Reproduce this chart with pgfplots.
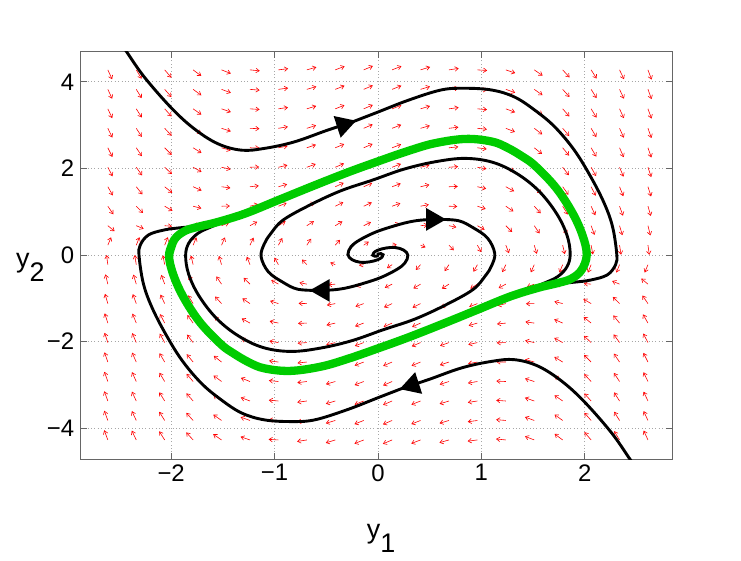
\documentclass[border=0pt]{standalone}
\usepackage{pgfplots}
\pgfplotsset{compat=1.18}
\usepackage{pgfplotstable}
\usepackage{fontspec}
\setmainfont{Liberation Sans}
\usetikzlibrary{arrows.meta}

\pgfplotstableread{
x y v
-2.6125 -4.275 27.52
-2.6125 -3.825 24.89
-2.6125 -3.375 22.27
-2.6125 -2.925 19.65
-2.6125 -2.475 17.03
-2.6125 -2.025 14.41
-2.6125 -1.575 11.79
-2.6125 -1.125 9.17
-2.6125 -0.675 6.54
-2.6125 -0.225 3.92
-2.6125 0.225 1.30
-2.6125 0.675 -1.32
-2.6125 1.125 -3.94
-2.6125 1.575 -6.56
-2.6125 2.025 -9.18
-2.6125 2.475 -11.80
-2.6125 2.925 -14.43
-2.6125 3.375 -17.05
-2.6125 3.825 -19.67
-2.6125 4.275 -22.29
-2.3375 -4.275 21.42
-2.3375 -3.825 19.41
-2.3375 -3.375 17.40
-2.3375 -2.925 15.39
-2.3375 -2.475 13.39
-2.3375 -2.025 11.38
-2.3375 -1.575 9.37
-2.3375 -1.125 7.36
-2.3375 -0.675 5.35
-2.3375 -0.225 3.34
-2.3375 0.225 1.33
-2.3375 0.675 -0.68
-2.3375 1.125 -2.68
-2.3375 1.575 -4.69
-2.3375 2.025 -6.70
-2.3375 2.475 -8.71
-2.3375 2.925 -10.72
-2.3375 3.375 -12.73
-2.3375 3.825 -14.74
-2.3375 4.275 -16.75
-2.0625 -4.275 15.97
-2.0625 -3.825 14.51
-2.0625 -3.375 13.04
-2.0625 -2.925 11.58
-2.0625 -2.475 10.12
-2.0625 -2.025 8.65
-2.0625 -1.575 7.19
-2.0625 -1.125 5.72
-2.0625 -0.675 4.26
-2.0625 -0.225 2.79
-2.0625 0.225 1.33
-2.0625 0.675 -0.13
-2.0625 1.125 -1.60
-2.0625 1.575 -3.06
-2.0625 2.025 -4.53
-2.0625 2.475 -5.99
-2.0625 2.925 -7.46
-2.0625 3.375 -8.92
-2.0625 3.825 -10.38
-2.0625 4.275 -11.85
-1.7875 -4.275 11.17
-1.7875 -3.825 10.18
-1.7875 -3.375 9.20
-1.7875 -2.925 8.21
-1.7875 -2.475 7.22
-1.7875 -2.025 6.23
-1.7875 -1.575 5.24
-1.7875 -1.125 4.26
-1.7875 -0.675 3.27
-1.7875 -0.225 2.28
-1.7875 0.225 1.29
-1.7875 0.675 0.31
-1.7875 1.125 -0.68
-1.7875 1.575 -1.67
-1.7875 2.025 -2.66
-1.7875 2.475 -3.65
-1.7875 2.925 -4.63
-1.7875 3.375 -5.62
-1.7875 3.825 -6.61
-1.7875 4.275 -7.60
-1.5125 -4.275 7.02
-1.5125 -3.825 6.44
-1.5125 -3.375 5.86
-1.5125 -2.925 5.28
-1.5125 -2.475 4.70
-1.5125 -2.025 4.12
-1.5125 -1.575 3.54
-1.5125 -1.125 2.96
-1.5125 -0.675 2.38
-1.5125 -0.225 1.80
-1.5125 0.225 1.22
-1.5125 0.675 0.64
-1.5125 1.125 0.06
-1.5125 1.575 -0.52
-1.5125 2.025 -1.10
-1.5125 2.475 -1.67
-1.5125 2.925 -2.25
-1.5125 3.375 -2.83
-1.5125 3.825 -3.41
-1.5125 4.275 -3.99
-1.2375 -4.275 3.51
-1.2375 -3.825 3.27
-1.2375 -3.375 3.03
-1.2375 -2.925 2.79
-1.2375 -2.475 2.55
-1.2375 -2.025 2.31
-1.2375 -1.575 2.07
-1.2375 -1.125 1.84
-1.2375 -0.675 1.60
-1.2375 -0.225 1.36
-1.2375 0.225 1.12
-1.2375 0.675 0.88
-1.2375 1.125 0.64
-1.2375 1.575 0.40
-1.2375 2.025 0.16
-1.2375 2.475 -0.08
-1.2375 2.925 -0.32
-1.2375 3.375 -0.56
-1.2375 3.825 -0.80
-1.2375 4.275 -1.03
-0.9625 -4.275 0.65
-0.9625 -3.825 0.68
-0.9625 -3.375 0.71
-0.9625 -2.925 0.75
-0.9625 -2.475 0.78
-0.9625 -2.025 0.81
-0.9625 -1.575 0.85
-0.9625 -1.125 0.88
-0.9625 -0.675 0.91
-0.9625 -0.225 0.95
-0.9625 0.225 0.98
-0.9625 0.675 1.01
-0.9625 1.125 1.05
-0.9625 1.575 1.08
-0.9625 2.025 1.11
-0.9625 2.475 1.14
-0.9625 2.925 1.18
-0.9625 3.375 1.21
-0.9625 3.825 1.24
-0.9625 4.275 1.28
-0.6875 -4.275 -1.57
-0.6875 -3.825 -1.33
-0.6875 -3.375 -1.09
-0.6875 -2.925 -0.86
-0.6875 -2.475 -0.62
-0.6875 -2.025 -0.38
-0.6875 -1.575 -0.14
-0.6875 -1.125 0.09
-0.6875 -0.675 0.33
-0.6875 -0.225 0.57
-0.6875 0.225 0.81
-0.6875 0.675 1.04
-0.6875 1.125 1.28
-0.6875 1.575 1.52
-0.6875 2.025 1.76
-0.6875 2.475 1.99
-0.6875 2.925 2.23
-0.6875 3.375 2.47
-0.6875 3.825 2.70
-0.6875 4.275 2.94
-0.4125 -4.275 -3.14
-0.4125 -3.825 -2.76
-0.4125 -3.375 -2.39
-0.4125 -2.925 -2.01
-0.4125 -2.475 -1.64
-0.4125 -2.025 -1.27
-0.4125 -1.575 -0.89
-0.4125 -1.125 -0.52
-0.4125 -0.675 -0.15
-0.4125 -0.225 0.23
-0.4125 0.225 0.60
-0.4125 0.675 0.97
-0.4125 1.125 1.35
-0.4125 1.575 1.72
-0.4125 2.025 2.09
-0.4125 2.475 2.47
-0.4125 2.925 2.84
-0.4125 3.375 3.21
-0.4125 3.825 3.59
-0.4125 4.275 3.96
-0.1375 -4.275 -4.06
-0.1375 -3.825 -3.62
-0.1375 -3.375 -3.17
-0.1375 -2.925 -2.73
-0.1375 -2.475 -2.29
-0.1375 -2.025 -1.85
-0.1375 -1.575 -1.41
-0.1375 -1.125 -0.97
-0.1375 -0.675 -0.52
-0.1375 -0.225 -0.08
-0.1375 0.225 0.36
-0.1375 0.675 0.80
-0.1375 1.125 1.24
-0.1375 1.575 1.68
-0.1375 2.025 2.12
-0.1375 2.475 2.57
-0.1375 2.925 3.01
-0.1375 3.375 3.45
-0.1375 3.825 3.89
-0.1375 4.275 4.33
0.1375 -4.275 -4.33
0.1375 -3.825 -3.89
0.1375 -3.375 -3.45
0.1375 -2.925 -3.01
0.1375 -2.475 -2.57
0.1375 -2.025 -2.12
0.1375 -1.575 -1.68
0.1375 -1.125 -1.24
0.1375 -0.675 -0.80
0.1375 -0.225 -0.36
0.1375 0.225 0.08
0.1375 0.675 0.52
0.1375 1.125 0.97
0.1375 1.575 1.41
0.1375 2.025 1.85
0.1375 2.475 2.29
0.1375 2.925 2.73
0.1375 3.375 3.17
0.1375 3.825 3.62
0.1375 4.275 4.06
0.4125 -4.275 -3.96
0.4125 -3.825 -3.59
0.4125 -3.375 -3.21
0.4125 -2.925 -2.84
0.4125 -2.475 -2.47
0.4125 -2.025 -2.09
0.4125 -1.575 -1.72
0.4125 -1.125 -1.35
0.4125 -0.675 -0.97
0.4125 -0.225 -0.60
0.4125 0.225 -0.23
0.4125 0.675 0.15
0.4125 1.125 0.52
0.4125 1.575 0.89
0.4125 2.025 1.27
0.4125 2.475 1.64
0.4125 2.925 2.01
0.4125 3.375 2.39
0.4125 3.825 2.76
0.4125 4.275 3.14
0.6875 -4.275 -2.94
0.6875 -3.825 -2.70
0.6875 -3.375 -2.47
0.6875 -2.925 -2.23
0.6875 -2.475 -1.99
0.6875 -2.025 -1.76
0.6875 -1.575 -1.52
0.6875 -1.125 -1.28
0.6875 -0.675 -1.04
0.6875 -0.225 -0.81
0.6875 0.225 -0.57
0.6875 0.675 -0.33
0.6875 1.125 -0.09
0.6875 1.575 0.14
0.6875 2.025 0.38
0.6875 2.475 0.62
0.6875 2.925 0.86
0.6875 3.375 1.09
0.6875 3.825 1.33
0.6875 4.275 1.57
0.9625 -4.275 -1.28
0.9625 -3.825 -1.24
0.9625 -3.375 -1.21
0.9625 -2.925 -1.18
0.9625 -2.475 -1.14
0.9625 -2.025 -1.11
0.9625 -1.575 -1.08
0.9625 -1.125 -1.05
0.9625 -0.675 -1.01
0.9625 -0.225 -0.98
0.9625 0.225 -0.95
0.9625 0.675 -0.91
0.9625 1.125 -0.88
0.9625 1.575 -0.85
0.9625 2.025 -0.81
0.9625 2.475 -0.78
0.9625 2.925 -0.75
0.9625 3.375 -0.71
0.9625 3.825 -0.68
0.9625 4.275 -0.65
1.2375 -4.275 1.03
1.2375 -3.825 0.80
1.2375 -3.375 0.56
1.2375 -2.925 0.32
1.2375 -2.475 0.08
1.2375 -2.025 -0.16
1.2375 -1.575 -0.40
1.2375 -1.125 -0.64
1.2375 -0.675 -0.88
1.2375 -0.225 -1.12
1.2375 0.225 -1.36
1.2375 0.675 -1.60
1.2375 1.125 -1.84
1.2375 1.575 -2.07
1.2375 2.025 -2.31
1.2375 2.475 -2.55
1.2375 2.925 -2.79
1.2375 3.375 -3.03
1.2375 3.825 -3.27
1.2375 4.275 -3.51
1.5125 -4.275 3.99
1.5125 -3.825 3.41
1.5125 -3.375 2.83
1.5125 -2.925 2.25
1.5125 -2.475 1.67
1.5125 -2.025 1.10
1.5125 -1.575 0.52
1.5125 -1.125 -0.06
1.5125 -0.675 -0.64
1.5125 -0.225 -1.22
1.5125 0.225 -1.80
1.5125 0.675 -2.38
1.5125 1.125 -2.96
1.5125 1.575 -3.54
1.5125 2.025 -4.12
1.5125 2.475 -4.70
1.5125 2.925 -5.28
1.5125 3.375 -5.86
1.5125 3.825 -6.44
1.5125 4.275 -7.02
1.7875 -4.275 7.60
1.7875 -3.825 6.61
1.7875 -3.375 5.62
1.7875 -2.925 4.63
1.7875 -2.475 3.65
1.7875 -2.025 2.66
1.7875 -1.575 1.67
1.7875 -1.125 0.68
1.7875 -0.675 -0.31
1.7875 -0.225 -1.29
1.7875 0.225 -2.28
1.7875 0.675 -3.27
1.7875 1.125 -4.26
1.7875 1.575 -5.24
1.7875 2.025 -6.23
1.7875 2.475 -7.22
1.7875 2.925 -8.21
1.7875 3.375 -9.20
1.7875 3.825 -10.18
1.7875 4.275 -11.17
2.0625 -4.275 11.85
2.0625 -3.825 10.38
2.0625 -3.375 8.92
2.0625 -2.925 7.46
2.0625 -2.475 5.99
2.0625 -2.025 4.53
2.0625 -1.575 3.06
2.0625 -1.125 1.60
2.0625 -0.675 0.13
2.0625 -0.225 -1.33
2.0625 0.225 -2.79
2.0625 0.675 -4.26
2.0625 1.125 -5.72
2.0625 1.575 -7.19
2.0625 2.025 -8.65
2.0625 2.475 -10.12
2.0625 2.925 -11.58
2.0625 3.375 -13.04
2.0625 3.825 -14.51
2.0625 4.275 -15.97
2.3375 -4.275 16.75
2.3375 -3.825 14.74
2.3375 -3.375 12.73
2.3375 -2.925 10.72
2.3375 -2.475 8.71
2.3375 -2.025 6.70
2.3375 -1.575 4.69
2.3375 -1.125 2.68
2.3375 -0.675 0.68
2.3375 -0.225 -1.33
2.3375 0.225 -3.34
2.3375 0.675 -5.35
2.3375 1.125 -7.36
2.3375 1.575 -9.37
2.3375 2.025 -11.38
2.3375 2.475 -13.39
2.3375 2.925 -15.39
2.3375 3.375 -17.40
2.3375 3.825 -19.41
2.3375 4.275 -21.42
2.6125 -4.275 22.29
2.6125 -3.825 19.67
2.6125 -3.375 17.05
2.6125 -2.925 14.43
2.6125 -2.475 11.80
2.6125 -2.025 9.18
2.6125 -1.575 6.56
2.6125 -1.125 3.94
2.6125 -0.675 1.32
2.6125 -0.225 -1.30
2.6125 0.225 -3.92
2.6125 0.675 -6.54
2.6125 1.125 -9.17
2.6125 1.575 -11.79
2.6125 2.025 -14.41
2.6125 2.475 -17.03
2.6125 2.925 -19.65
2.6125 3.375 -22.27
2.6125 3.825 -24.89
2.6125 4.275 -27.52
}\fieldtab

\begin{document}
\begin{tikzpicture}
\begin{axis}[
  scale only axis, width=591.3bp, height=407.3bp,
  xmin=-2.875, xmax=2.845, ymin=-4.715, ymax=4.695,
  xtick={-2,-1,0,1,2}, xticklabels={−2,−1,0,1,2},
  ytick={-4,-2,0,2,4}, yticklabels={−4,−2,0,2,4},
  tick align=inside, major tick length=6bp,
  axis line style={black!60, line width=0.7bp},
  tick style={black!60, line width=0.7bp},
  grid=major,
  major grid style={black!35, line width=0.6bp, dash pattern=on 0.8bp off 2.6bp},
  ticklabel style={font=\fontsize{24}{28}\selectfont},
  xticklabel style={yshift=-2bp},
  yticklabel style={xshift=-3bp},
  xlabel={y\raisebox{-0.95ex}{1}},
  ylabel={y\raisebox{-0.95ex}{2}},
  label style={font=\fontsize{27}{32}\selectfont},
  xlabel style={at={(axis description cs:0.508,-0.195)}, anchor=center},
  ylabel style={at={(axis description cs:-0.085,0.47)}, anchor=center, rotate=-90},
  declare function={qf(\a,\b)=10.5*sqrt(\a*\a+\b*\b)/((sqrt(\a*\a+\b*\b)+0.3)*sqrt(10691*\a*\a+1875*\b*\b));},
  clip=true,
]
% direction field
\addplot[red, line width=0.6bp, -{Straight Barb[length=3.3bp,width=4.5bp]},
  quiver={u={\thisrow{y}*qf(\thisrow{y},\thisrow{v})}, v={\thisrow{v}*qf(\thisrow{y},\thisrow{v})}}]
  table[x=x, y=y] {\fieldtab};

% inner spiral, arm A
\addplot[black, line width=2.9bp, smooth, tension=0.6, -{Triangle[length=20bp,width=22bp]}] coordinates {
(-0.005,0.0) (0.005,0.025) (0.03,0.03) (0.05,0.005) (0.04,-0.05) (0.0,-0.11) (-0.08,-0.16) (-0.17,-0.17) (-0.25,-0.11) (-0.29,0.01) (-0.26,0.19) (-0.18,0.34) (-0.03,0.52) (0.13,0.65) (0.30,0.76) (0.45,0.81) (0.66,0.82)};
\addplot[black, line width=2.9bp, smooth, tension=0.6] coordinates {
(0.60,0.82) (0.78,0.79) (0.92,0.63) (1.06,0.39) (1.13,0.04) (1.10,-0.25) (1.04,-0.48) (0.92,-0.80) (0.66,-1.15) (0.36,-1.48) (0.05,-1.73) (-0.25,-1.98) (-0.55,-2.15) (-0.84,-2.23) (-1.11,-2.14) (-1.35,-1.87) (-1.56,-1.47) (-1.73,-0.95) (-1.83,-0.45) (-1.86,-0.02) (-1.83,0.27) (-1.74,0.50) (-1.60,0.66) (-1.40,0.86) (-1.20,1.04)};
% inner spiral, arm B
\addplot[black, line width=2.9bp, smooth, tension=0.6, -{Triangle[length=20bp,width=22bp]}] coordinates {
(0.005,0.0) (-0.005,-0.025) (-0.03,-0.03) (-0.05,-0.005) (-0.04,0.05) (0.0,0.11) (0.08,0.16) (0.17,0.17) (0.25,0.11) (0.29,-0.01) (0.26,-0.19) (0.18,-0.34) (0.03,-0.52) (-0.13,-0.65) (-0.30,-0.76) (-0.45,-0.81) (-0.66,-0.82)};
\addplot[black, line width=2.9bp, smooth, tension=0.6] coordinates {
(-0.60,-0.82) (-0.78,-0.79) (-0.92,-0.63) (-1.06,-0.39) (-1.13,-0.04) (-1.10,0.25) (-1.04,0.48) (-0.92,0.80) (-0.66,1.15) (-0.36,1.48) (-0.05,1.73) (0.25,1.98) (0.55,2.15) (0.84,2.23) (1.11,2.14) (1.35,1.87) (1.56,1.47) (1.73,0.95) (1.83,0.45) (1.86,0.02) (1.83,-0.27) (1.74,-0.50) (1.60,-0.66) (1.40,-0.86) (1.20,-1.04)};
% outer trajectory from top left
\addplot[black, line width=2.9bp, smooth, tension=0.6, -{Triangle[length=20bp,width=22bp]}] coordinates {
(-2.52,5.0) (-2.43,4.69) (-2.26,4.11) (-2.0,3.40) (-1.78,2.92) (-1.55,2.57) (-1.32,2.42) (-1.10,2.46) (-0.81,2.61) (-0.49,2.88) (-0.21,3.10)};
\addplot[black, line width=2.9bp, smooth, tension=0.6] coordinates {
(-0.26,3.06) (0.0,3.30) (0.29,3.57) (0.61,3.81) (0.84,3.85) (1.10,3.81) (1.32,3.65) (1.52,3.34) (1.71,2.96) (1.90,2.42) (2.06,1.80) (2.19,1.19) (2.27,0.65) (2.31,0.03) (2.30,-0.22) (2.22,-0.46) (2.06,-0.58) (1.90,-0.63) (1.77,-0.66) (1.60,-0.72) (1.40,-0.85)};
% outer trajectory from bottom right
\addplot[black, line width=2.9bp, smooth, tension=0.6, -{Triangle[length=20bp,width=22bp]}] coordinates {
(2.52,-5.0) (2.43,-4.69) (2.26,-4.11) (2.0,-3.40) (1.78,-2.92) (1.55,-2.57) (1.32,-2.42) (1.10,-2.46) (0.81,-2.61) (0.49,-2.88) (0.21,-3.10)};
\addplot[black, line width=2.9bp, smooth, tension=0.6] coordinates {
(0.26,-3.06) (0.0,-3.30) (-0.29,-3.57) (-0.61,-3.81) (-0.84,-3.85) (-1.10,-3.81) (-1.32,-3.65) (-1.52,-3.34) (-1.71,-2.96) (-1.90,-2.42) (-2.06,-1.80) (-2.19,-1.19) (-2.27,-0.65) (-2.31,-0.03) (-2.30,0.22) (-2.22,0.46) (-2.06,0.58) (-1.90,0.63) (-1.77,0.66) (-1.60,0.72) (-1.40,0.85)};
% limit cycle
\addplot[color={rgb,255:red,0;green,204;blue,0}, line width=8.3bp, smooth, tension=0.6] coordinates {
(-2.02,0.0) (-1.97,0.35) (-1.87,0.55) (-1.74,0.65) (-1.55,0.76) (-1.28,0.96) (-0.96,1.27) (-0.63,1.59) (-0.30,1.90) (0.0,2.16) (0.29,2.40) (0.55,2.58) (0.85,2.68) (1.10,2.62) (1.25,2.48) (1.40,2.27) (1.52,2.06) (1.72,1.56) (1.88,0.98) (1.98,0.45) (2.02,0.0)
(1.97,-0.35) (1.87,-0.55) (1.74,-0.65) (1.55,-0.76) (1.28,-0.96) (0.96,-1.27) (0.63,-1.59) (0.30,-1.90) (0.0,-2.16) (-0.29,-2.40) (-0.55,-2.58) (-0.85,-2.68) (-1.10,-2.62) (-1.25,-2.48) (-1.40,-2.27) (-1.52,-2.06) (-1.72,-1.56) (-1.88,-0.98) (-1.98,-0.45) (-2.02,0.0) (-1.97,0.35)};
\end{axis}
\pgfresetboundingbox
\useasboundingbox (current axis.south west) ++(-80.7bp,-102bp) rectangle ++(741bp,561bp);
\end{tikzpicture}
\end{document}
